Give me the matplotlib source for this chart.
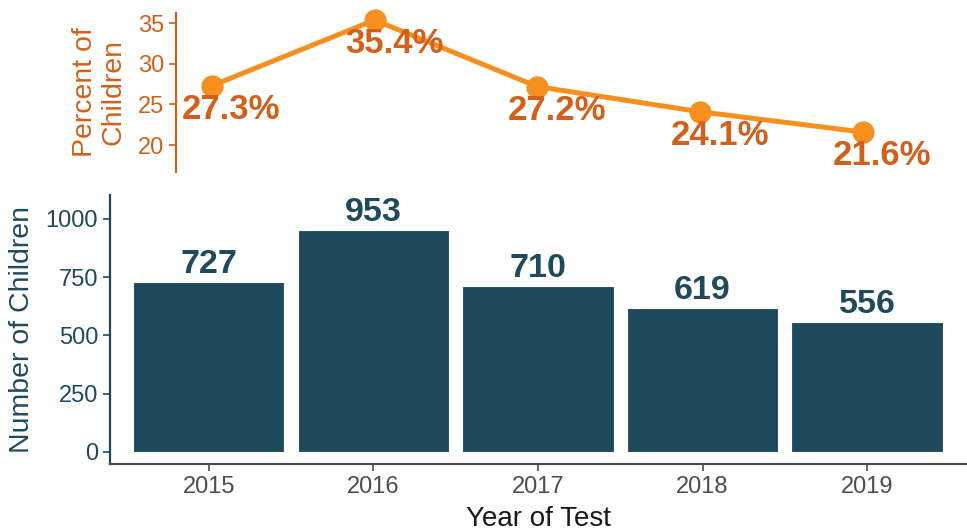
import matplotlib.pyplot as plt
import numpy as np

plt.rcParams['font.family'] = ['Liberation Sans', 'DejaVu Sans']

years = ['2015', '2016', '2017', '2018', '2019']
counts = [727, 953, 710, 619, 556]
percents = [27.3, 35.4, 27.2, 24.1, 21.6]

teal = '#1F4A5C'
orange_line = '#F5901E'
orange_text = '#D2601A'
grey = '#4D4D4D'

fig = plt.figure(figsize=(9.67, 5.32), dpi=100)

# bottom panel: bar chart
ax = fig.add_axes([0.1138, 0.1278, 0.885, 0.5056])
x = np.arange(len(years))
ax.bar(x, counts, width=0.92, color=teal, edgecolor='white', linewidth=0.8)
for xi, c in zip(x, counts):
    ax.annotate(str(c), (xi, c), xytext=(0, 1.5), textcoords='offset points',
                ha='center', va='bottom', fontsize=24.5, fontweight='bold', color=teal)
ax.set_xlim(-0.6, 4.6)
ax.set_ylim(-52.5, 1102.5)
ax.set_xticks(x)
ax.set_xticklabels(years)
ax.set_yticks([0, 250, 500, 750, 1000])
ax.tick_params(axis='x', colors=grey, labelsize=17, length=5, width=1.2, labelcolor=grey)
ax.tick_params(axis='y', colors=teal, labelsize=17, length=5, width=1.2, labelcolor=teal)
for s in ['top', 'right']:
    ax.spines[s].set_visible(False)
ax.spines['left'].set_color(teal)
ax.spines['left'].set_linewidth(1.6)
ax.spines['bottom'].set_color(grey)
ax.spines['bottom'].set_linewidth(1.6)
ax.set_xlabel('Year of Test', fontsize=20, color='#1A1A1A', labelpad=6)
ax.set_ylabel('Number of Children', fontsize=20.5, color=teal, labelpad=8)

# top panel: line chart of percentages
ax2 = fig.add_axes([0.182, 0.6767, 0.818, 0.2989])
ax2.plot(x, percents, color=orange_line, linewidth=3.6, marker='o', markersize=15,
         zorder=3, clip_on=False)
for xi, p in zip(x, percents):
    ax2.annotate(f'{p}%', (xi, p), xytext=(14, -17), textcoords='offset points',
                 ha='center', va='center', fontsize=25, fontweight='bold',
                 color=orange_text, zorder=4, annotation_clip=False)
ax2.set_xlim(-0.22, 4.64)
ax2.set_ylim(16.68, 36.27)
ax2.set_yticks([20, 25, 30, 35])
ax2.set_xticks([])
ax2.tick_params(axis='y', colors=orange_text, labelsize=17, length=5, width=1.2,
                labelcolor=orange_text)
for s in ['top', 'right', 'bottom']:
    ax2.spines[s].set_visible(False)
ax2.spines['left'].set_color(orange_text)
ax2.spines['left'].set_linewidth(1.6)
ax2.set_ylabel('Percent of\nChildren', fontsize=20.5, color=orange_text,
               linespacing=1.15, labelpad=8)

fig.savefig('out.png', dpi=100)
